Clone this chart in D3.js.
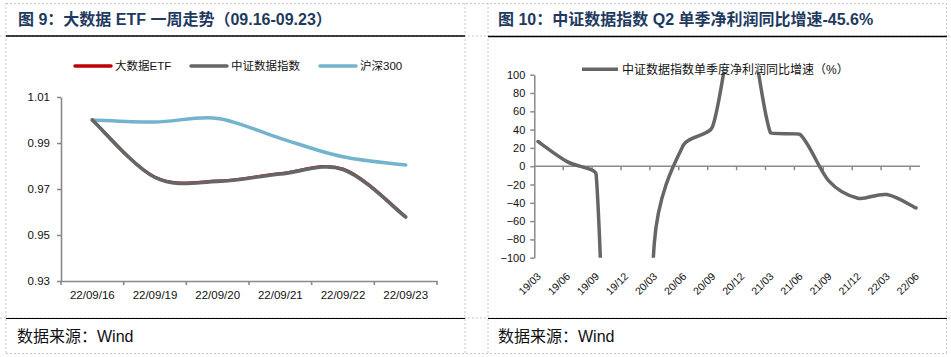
<!DOCTYPE html>
<html><head><meta charset="utf-8">
<script src="https://cdn.jsdelivr.net/npm/d3@7"></script>
<style>
html,body{margin:0;padding:0;background:#fff;}
svg{display:block;}
text{font-family:"Liberation Sans","Noto Sans CJK SC",sans-serif;}
</style></head>
<body>
<svg id="c" width="951" height="357"></svg>
<script>
// ---------- data ----------
const datesL = ["22/09/16","22/09/19","22/09/20","22/09/21","22/09/22","22/09/23"];
const etfVals = [1.000, 0.9752, 0.9735, 0.9767, 0.9787, 0.9580];
const indexVals = [1.000, 0.9750, 0.9733, 0.9765, 0.9785, 0.9578];
const hs300Vals = [1.000, 0.9991, 1.0007, 0.9920, 0.9840, 0.9804];
const yTicksL = [0.93, 0.95, 0.97, 0.99, 1.01];
const legendL = ["大数据ETF", "中证数据指数", "沪深300"];

const quartersR = ["19/03","19/06","19/09","19/12","20/03","20/06","20/09","20/12","21/03","21/06","21/09","21/12","22/03","22/06"];
const growthVals = [27, 5, -9, -800, -84, 23, 43, 185, 36, 35, -16, -35, -31, -45.6];
const yTicksR = [-100,-80,-60,-40,-20,0,20,40,60,80,100];
const legendR = "中证数据指数单季度净利润同比增速（%）";

const titleL = "图 9：大数据 ETF 一周走势（09.16-09.23）";
const titleR = "图 10：中证数据指数 Q2 单季净利润同比增速-45.6%";
const sourceText = "数据来源：Wind";

// ---------- spreadsheet-style smoothing curve for d3.line ----------
// control arms 1/6 of neighbour chord, limited to half the segment (measured in data units)
function SmoothCurve(ctx, ux, uy){ this._ctx = ctx; this._ux = ux; this._uy = uy; }
SmoothCurve.prototype = {
  areaStart(){}, areaEnd(){},
  lineStart(){ this._p = []; },
  point(x,y){ this._p.push([+x,+y]); },
  lineEnd(){
    const p = this._p, c = this._ctx, n = p.length, ux = this._ux, uy = this._uy;
    if (!n) return;
    c.moveTo(p[0][0], p[0][1]);
    const dist = (a,b)=>Math.hypot((b[0]-a[0])/ux, (b[1]-a[1])/uy);
    for (let i=0;i<n-1;i++){
      const P1=p[i], P2=p[i+1], P0=p[i-1]||P1, P3=p[i+2]||P2;
      const d12 = dist(P1,P2), d02 = dist(P0,P2), d13 = dist(P1,P3);
      const fa = (d02/6 < d12/2 || !d02) ? 1/6 : d12/(2*d02);
      const fb = (d13/6 < d12/2 || !d13) ? 1/6 : d12/(2*d13);
      c.bezierCurveTo(
        P1[0]+(P2[0]-P0[0])*fa, P1[1]+(P2[1]-P0[1])*fa,
        P2[0]-(P3[0]-P1[0])*fb, P2[1]-(P3[1]-P1[1])*fb,
        P2[0], P2[1]);
    }
  }
};
const smooth = (ux,uy) => ctx => new SmoothCurve(ctx, ux, uy);

// ---------- frame ----------
const svg = d3.select("#c");
const dash = "#c8c8c8";
function hline(x1,x2,y,color,w,da){svg.append("line").attr("x1",x1).attr("x2",x2).attr("y1",y).attr("y2",y).attr("stroke",color).attr("stroke-width",w).attr("stroke-dasharray",da||null);}
function vline(x,y1,y2,color,w,da){svg.append("line").attr("x1",x).attr("x2",x).attr("y1",y1).attr("y2",y2).attr("stroke",color).attr("stroke-width",w).attr("stroke-dasharray",da||null);}
hline(6,947,3.5,dash,1,"2,2");
hline(0,951,36,dash,1,"2,2");
hline(0,951,318,dash,1,"2,2");
hline(6,947,353.5,dash,1,"2,2");
vline(6,3,354,dash,1,"2,2");
vline(465,3,354,dash,1,"2,2");
vline(488,3,354,dash,1,"2,2");
vline(946.5,3,354,dash,1,"2,2");
hline(6,465,36,"#000",1.5);
hline(6,465,318.5,"#000",1.2);
hline(488,947,36.5,"#000",1.5);
hline(488,947,318.5,"#000",1.2);

svg.append("text").attr("x",18).attr("y",25).attr("font-size",16).attr("font-weight","bold").attr("fill","#1F3A5F").text(titleL);
svg.append("text").attr("x",498).attr("y",25).attr("font-size",16).attr("font-weight","bold").attr("fill","#1F3A5F").text(titleR);
svg.append("text").attr("x",17).attr("y",342).attr("font-size",16).attr("fill","#111").text(sourceText);
svg.append("text").attr("x",498).attr("y",342).attr("font-size",16).attr("fill","#111").text(sourceText);

// ---------- left chart ----------
const axisCol = "#8a8a8a";
const xL = d3.scaleBand().domain(datesL).range([61,437]);
const yL = d3.scaleLinear().domain([0.93,1.01]).range([281,97]);
const gL = svg.append("g");

const yAxL = gL.append("g").attr("transform","translate(61,0)")
  .call(d3.axisLeft(yL).tickValues(yTicksL).tickFormat(d3.format(".2f")).tickSize(4).tickSizeOuter(0).tickPadding(7));
const xAxL = gL.append("g").attr("transform","translate(0,281)")
  .call(d3.axisBottom(xL).tickSize(0).tickSizeOuter(0).tickPadding(10));
[yAxL,xAxL].forEach(a=>{
  a.selectAll("path,line").attr("stroke",axisCol).attr("stroke-width",1.6);
  a.selectAll("text").attr("font-size",11.5).attr("fill","#111").attr("font-family","Liberation Sans");
});
const edgesL = datesL.map(d=>xL(d)).concat([xL.range()[1]]);
gL.append("g").selectAll("line").data(edgesL).join("line")
  .attr("x1",d=>d).attr("x2",d=>d).attr("y1",281).attr("y2",285)
  .attr("stroke",axisCol).attr("stroke-width",1.6);

const lineL = d3.line().x((d,i)=>xL(datesL[i])+xL.bandwidth()/2).y(d=>yL(d))
  .curve(smooth(xL.step(), yL(0)-yL(1)));
gL.append("path").datum(hs300Vals).attr("d",lineL).attr("fill","none").attr("stroke","#74B3CE").attr("stroke-width",3.5).attr("stroke-linecap","round");
gL.append("path").datum(etfVals).attr("d",lineL).attr("fill","none").attr("stroke","#C00000").attr("stroke-width",3).attr("stroke-linecap","round");
gL.append("path").datum(indexVals).attr("d",lineL).attr("fill","none").attr("stroke","#666666").attr("stroke-width",3.6).attr("stroke-linecap","round");

const legColors = ["#C00000","#666666","#74B3CE"];
const legX = [75,191,320];
legendL.forEach((t,i)=>{
  gL.append("line").attr("x1",legX[i]).attr("x2",legX[i]+36).attr("y1",66).attr("y2",66)
    .attr("stroke",legColors[i]).attr("stroke-width",3.5).attr("stroke-linecap","round");
  gL.append("text").attr("x",legX[i]+40).attr("y",70).attr("font-size",11.5).attr("fill","#111")
    .attr("font-family","Noto Sans CJK SC").text(t);
});

// ---------- right chart ----------
const xR = d3.scalePoint().domain(quartersR).range([538,916]);
const yR = d3.scaleLinear().domain([-100,100]).range([257.7,74.7]);
const gR = svg.append("g");
const yAxR = gR.append("g").attr("transform","translate(534.3,0)")
  .call(d3.axisLeft(yR).tickValues(yTicksR).tickSize(4).tickSizeOuter(0).tickPadding(5));
yAxR.selectAll("path,line").attr("stroke",axisCol).attr("stroke-width",1.5);
yAxR.selectAll("text").attr("font-size",11).attr("fill","#111").attr("font-family","Liberation Sans");

const tickStep = 28.9;
const xTickR = d3.scaleLinear().domain([0,quartersR.length-1]).range([534.3,534.3+tickStep*(quartersR.length-1)]);
gR.append("line").attr("x1",534.3).attr("x2",920).attr("y1",yR(0)).attr("y2",yR(0)).attr("stroke",axisCol).attr("stroke-width",1.5);
gR.append("g").selectAll("line").data(d3.range(1,quartersR.length)).join("line")
  .attr("x1",d=>xTickR(d)).attr("x2",d=>xTickR(d)).attr("y1",yR(0)).attr("y2",yR(0)+4)
  .attr("stroke",axisCol).attr("stroke-width",1.5);
gR.append("g").selectAll("text").data(quartersR).join("text")
  .attr("transform",d=>`translate(${xR(d)+3.7},277) rotate(-45)`)
  .attr("text-anchor","end").attr("font-size",10.5).attr("fill","#111").attr("font-family","Liberation Sans")
  .text(d=>d);

svg.append("clipPath").attr("id","clipR").append("rect")
  .attr("x",534.3).attr("y",yR(100)-2.5).attr("width",400).attr("height",yR(-100)-yR(100)+2.5);
const lineR = d3.line().x((d,i)=>xR(quartersR[i])).y(d=>yR(d))
  .curve(smooth(xR.step(), yR(0)-yR(1)));
gR.append("path").datum(growthVals).attr("d",lineR).attr("clip-path","url(#clipR)")
  .attr("fill","none").attr("stroke","#666666").attr("stroke-width",3.5).attr("stroke-linecap","round");

gR.append("line").attr("x1",582).attr("x2",618).attr("y1",69.3).attr("y2",69.3).attr("stroke","#666666").attr("stroke-width",3.5);
gR.append("text").attr("x",622).attr("y",73.5).attr("font-size",12).attr("fill","#111")
  .attr("font-family","Noto Sans CJK SC").text(legendR);
</script>
</body></html>
